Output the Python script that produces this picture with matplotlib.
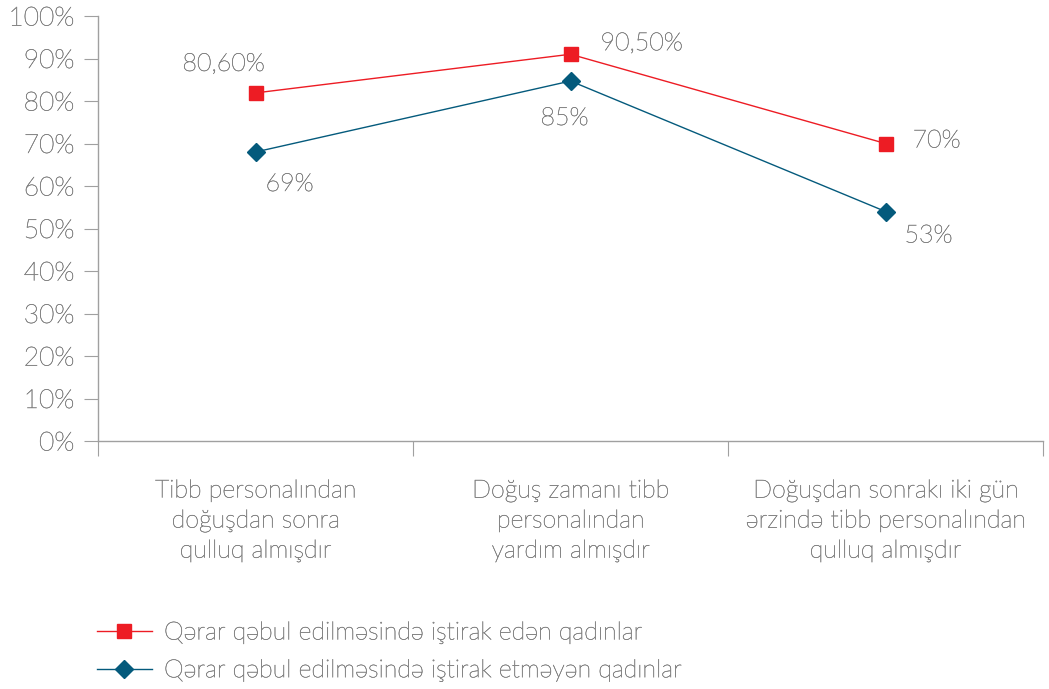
import matplotlib
matplotlib.use("Agg")
import matplotlib.pyplot as plt
import matplotlib.patheffects as pe

categories = ["Tibb personalından\ndoğuşdan sonra\nqulluq almışdır",
              "Doğuş zamanı tibb\npersonalından\nyardım almışdır",
              "Doğuşdan sonrakı iki gün\nərzində tibb personalından\nqulluq almışdır"]
series_names = ["Qərar qəbul edilməsində iştirak edən qadınlar",
                "Qərar qəbul edilməsində iştirak etməyən qadınlar"]
red_values = [81.9, 91.0, 70.0]
blue_values = [68.0, 84.7, 54.0]
red_labels = ["80,60%", "90,50%", "70%"]
blue_labels = ["69%", "85%", "53%"]
yticks = [0, 10, 20, 30, 40, 50, 60, 70, 80, 90, 100]

plt.rcParams['font.family'] = ['Lato', 'DejaVu Sans']
FW = 'light'
FS = 18
GRAY = '#858585'
RED = '#ED1C24'
BLUE = '#045A7C'
PE = [pe.withStroke(linewidth=0.35, foreground=GRAY)]

fig = plt.figure(figsize=(10.49, 6.89), dpi=100)
ax = fig.add_axes([98/1049, 1-441/689, (1043-98)/1049, 425/689])
x = list(range(len(categories)))
l1, = ax.plot(x, red_values, color=RED, lw=1, marker='s', ms=10, mec=RED, mfc=RED)
l2, = ax.plot(x, blue_values, color=BLUE, lw=1, marker='D', ms=9, mec=BLUE, mfc=BLUE)

ax.set_xlim(-0.5, 2.5)
ax.set_ylim(0, 100)
ax.set_yticks(yticks)
ax.set_yticklabels([f"{v}%" for v in yticks], fontsize=FS + 1, color=GRAY, fontweight=FW)
ax.set_xticks([-0.5, 0.5, 1.5, 2.5])
ax.set_xticklabels([])
ax.set_xticks(x, minor=True)
ax.set_xticklabels(categories, minor=True, fontsize=FS, color=GRAY, fontweight=FW, linespacing=1.32)
ax.tick_params(axis='x', which='minor', length=0, pad=27)
ax.tick_params(axis='x', which='major', length=11, color='#a0a0a0', direction='out')
ax.tick_params(axis='y', length=10, color='#a0a0a0', pad=7)
for s in ['top', 'right']:
    ax.spines[s].set_visible(False)
for s in ['left', 'bottom']:
    ax.spines[s].set_color('#a0a0a0')
    ax.spines[s].set_linewidth(1)

red_off = [(-32, 29), (71, 11), (51, 3)]
blue_off = [(34, -32), (-6, -37), (43, -24)]
texts = []
for i in x:
    dx, dy = red_off[i]
    texts.append(ax.annotate(red_labels[i], (i, red_values[i]), xytext=(dx*0.72, dy*0.72), textcoords='offset points',
                ha='center', va='center', fontsize=FS, color=GRAY, fontweight=FW))
    dx, dy = blue_off[i]
    texts.append(ax.annotate(blue_labels[i], (i, blue_values[i]), xytext=(dx*0.72, dy*0.72), textcoords='offset points',
                ha='center', va='center', fontsize=FS, color=GRAY, fontweight=FW))

leg = fig.legend([l1, l2], series_names, loc='upper left', bbox_to_anchor=(74/1049, 1-598/689),
                 frameon=False, handlelength=2.2, handletextpad=0.5, labelspacing=0.55,
                 prop={'weight': FW, 'size': FS})
for t in leg.get_texts():
    t.set_color(GRAY)
    texts.append(t)

texts += ax.get_yticklabels() + ax.get_xticklabels(minor=True)
for t in texts:
    t.set_path_effects(PE)

fig.savefig("out.png", dpi=100)
